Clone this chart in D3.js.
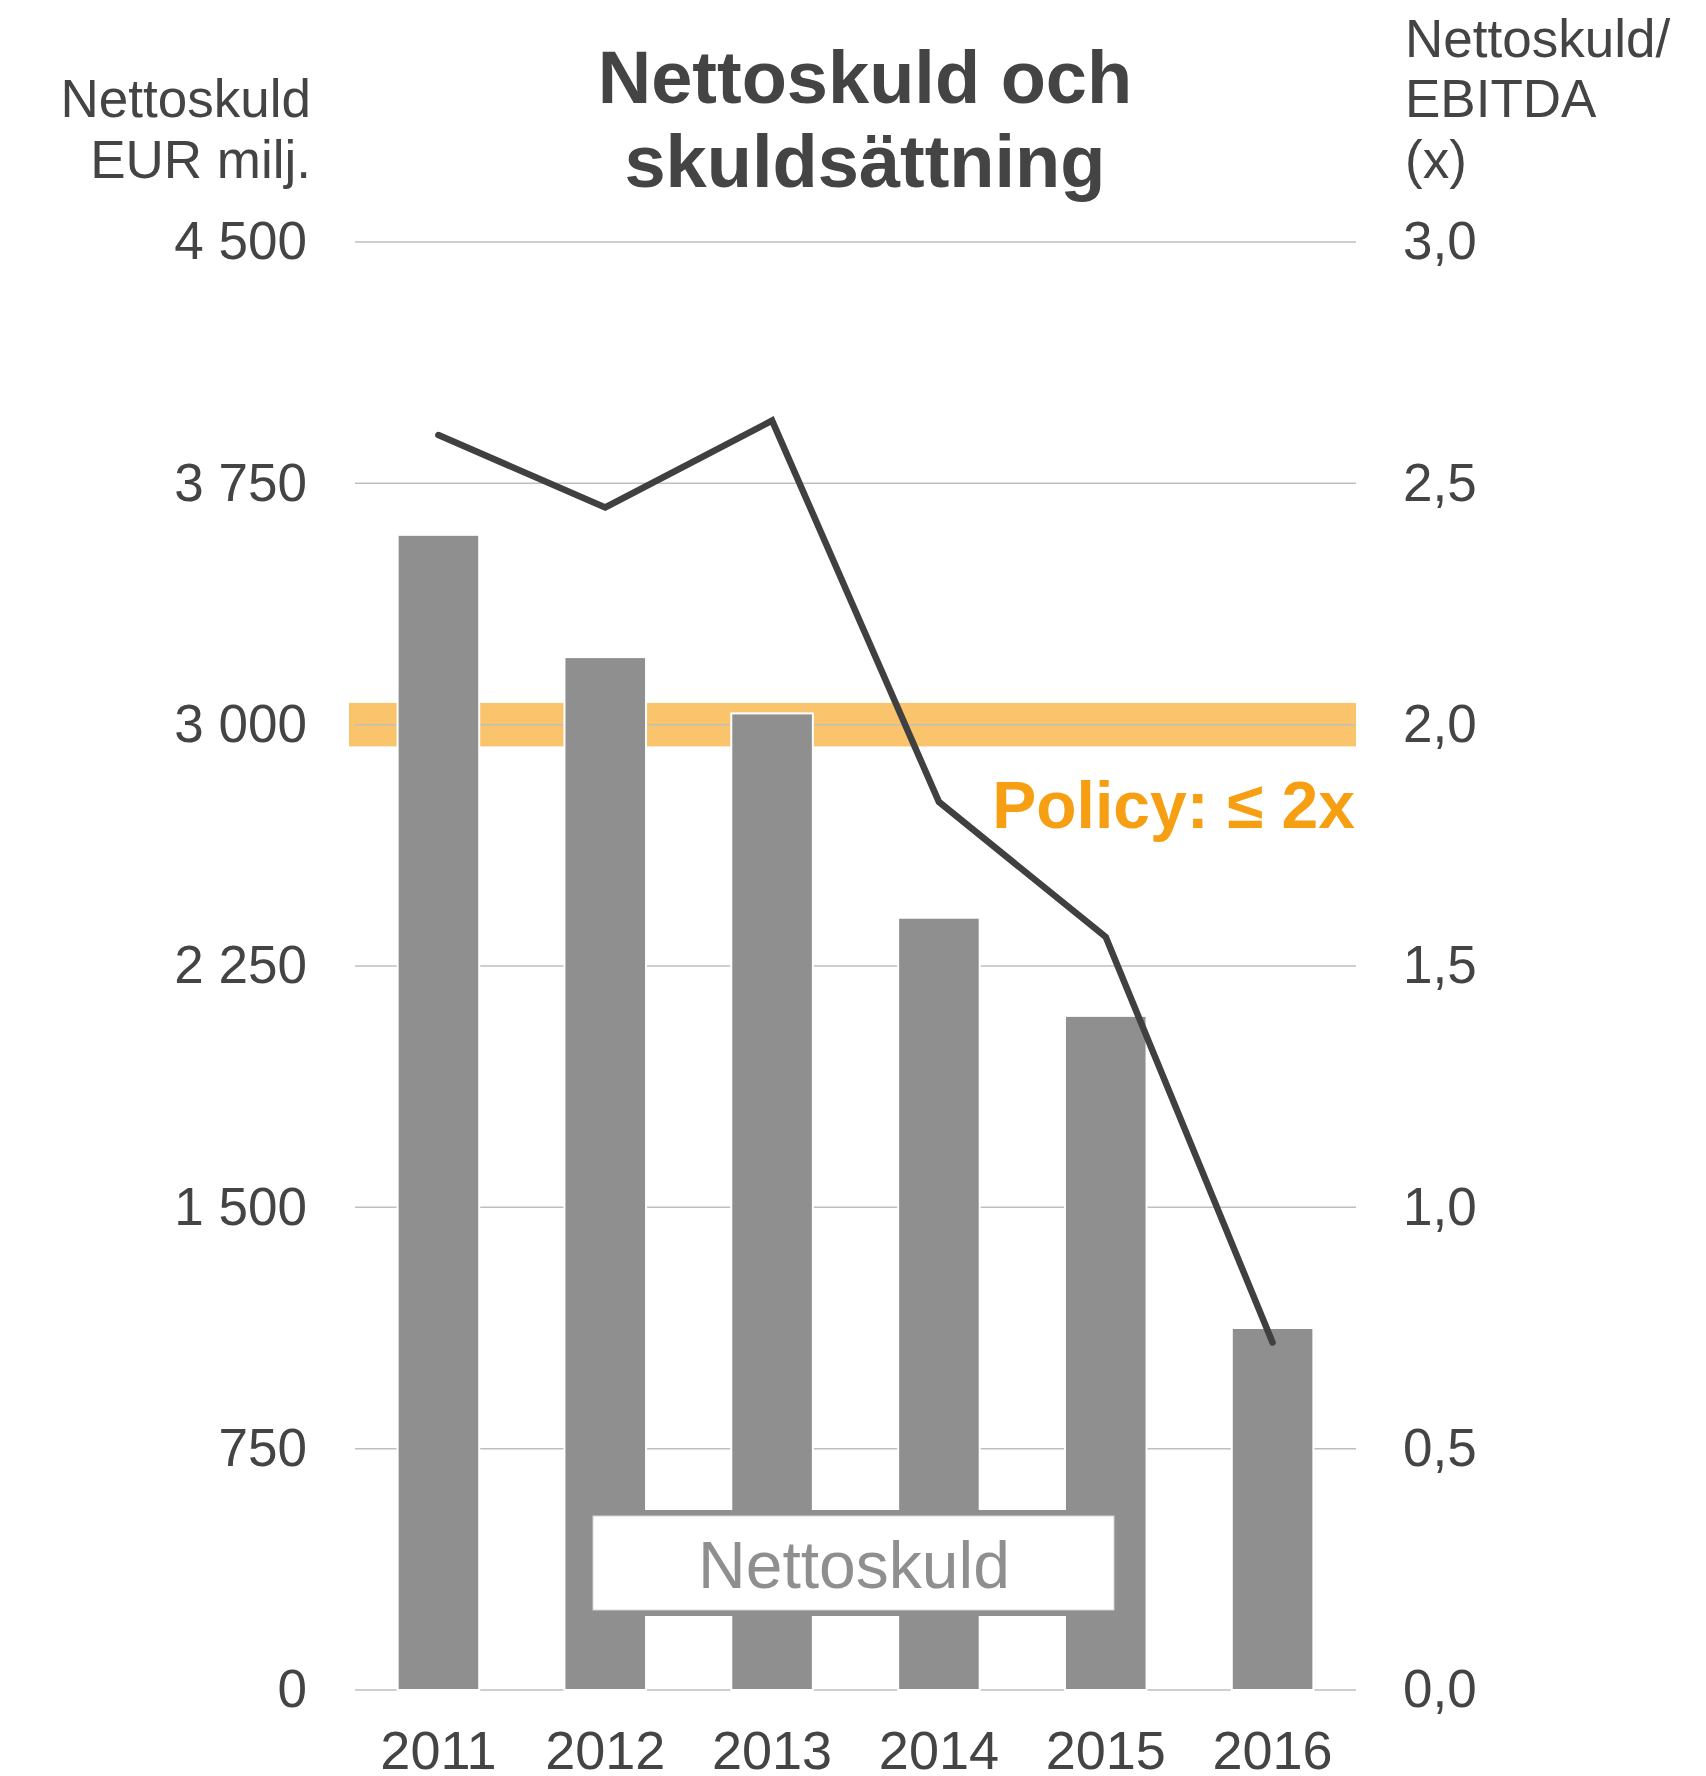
<!DOCTYPE html>
<html>
<head>
<meta charset="utf-8">
<script src="https://cdn.jsdelivr.net/npm/d3@7.9.0/dist/d3.min.js"></script>
<style>
  body { margin: 0; background: #fff; }
  svg { display: block; font-family: "Liberation Sans", Arial, sans-serif; }
</style>
</head>
<body>
<div id="chart"></div>
<script>
// values
const years = ['2011', '2012', '2013', '2014', '2015', '2016'];
const netDebt = [3590, 3210, 3035, 2400, 2095, 1125];
const leverage = [2.6, 2.45, 2.63, 1.84, 1.56, 0.72];
const leftTicks = [0, 750, 1500, 2250, 3000, 3750, 4500];
const rightTicks = [0, 0.5, 1.0, 1.5, 2.0, 2.5, 3.0];
const policyLevel = 2.0;

const width = 1706;
const height = 1776;
const margin = { top: 242, right: 350, bottom: 86, left: 355 };
const textColor = '#444444';
const barColor = '#8f8f8f';

const svg = d3.select('#chart').append('svg')
  .attr('width', width)
  .attr('height', height);

const xScale = d3.scaleBand()
  .domain(years)
  .range([margin.left, width - margin.right])
  .paddingInner(0.511)
  .paddingOuter(0.2555);

const yLeft = d3.scaleLinear()
  .domain([0, 4500])
  .range([height - margin.bottom, margin.top]);

const yRight = d3.scaleLinear()
  .domain([0, 3])
  .range([height - margin.bottom, margin.top]);

const sv = d3.formatLocale({ decimal: ',', thousands: ' ', grouping: [3], currency: ['', ''] });
const fmtLeft = sv.format(',d');
const fmtRight = sv.format('.1f');

const [x0, x1] = xScale.range();

// policy band around 2x
svg.append('rect')
  .attr('x', x0 - 6)
  .attr('y', yRight(policyLevel + 0.045))
  .attr('width', x1 - x0 + 6)
  .attr('height', yRight(policyLevel - 0.045) - yRight(policyLevel + 0.045))
  .attr('fill', '#fac46c');

// gridlines
svg.append('g')
  .selectAll('line')
  .data(leftTicks)
  .join('line')
  .attr('x1', x0)
  .attr('x2', x1)
  .attr('y1', d => yLeft(d))
  .attr('y2', d => yLeft(d))
  .attr('stroke', '#bfbfbf')
  .attr('stroke-width', 1.5);

// bars
svg.append('g')
  .selectAll('rect')
  .data(years)
  .join('rect')
  .attr('x', d => xScale(d))
  .attr('y', (d, i) => yLeft(netDebt[i]))
  .attr('width', xScale.bandwidth())
  .attr('height', (d, i) => yLeft(0) - yLeft(netDebt[i]))
  .attr('fill', barColor)
  .attr('stroke', '#ffffff')
  .attr('stroke-width', 2);

// left axis labels
const leftAxis = svg.append('g')
  .attr('transform', `translate(${x0},0)`)
  .call(d3.axisLeft(yLeft).tickValues(leftTicks).tickSize(0).tickPadding(48).tickFormat(fmtLeft));

// right axis labels
const rightAxis = svg.append('g')
  .attr('transform', `translate(${x1},0)`)
  .call(d3.axisRight(yRight).tickValues(rightTicks).tickSize(0).tickPadding(47).tickFormat(fmtRight));

// year labels
const xAxis = svg.append('g')
  .attr('transform', `translate(0,${yLeft(0)})`)
  .call(d3.axisBottom(xScale).tickSize(0).tickPadding(41));

[leftAxis, rightAxis].forEach(g => {
  g.select('.domain').remove();
  g.selectAll('text')
    .attr('fill', textColor)
    .style('font-size', '53px')
    .style('font-family', '"Liberation Sans", Arial, sans-serif');
});
xAxis.select('.domain').remove();
xAxis.selectAll('text')
  .attr('fill', textColor)
  .style('font-size', '54px')
  .style('font-family', '"Liberation Sans", Arial, sans-serif');

// legend box
const legend = svg.append('g');
legend.append('rect')
  .attr('x', 587)
  .attr('y', 1510)
  .attr('width', 532)
  .attr('height', 106)
  .attr('fill', barColor);
legend.append('rect')
  .attr('x', 593)
  .attr('y', 1516)
  .attr('width', 521)
  .attr('height', 94)
  .attr('fill', '#ffffff')
  .attr('stroke', '#d4d4d4')
  .attr('stroke-width', 1);
legend.append('text')
  .attr('x', 854)
  .attr('y', 1588)
  .attr('text-anchor', 'middle')
  .attr('fill', '#8f8f8f')
  .style('font-size', '66px')
  .text('Nettoskuld');

// leverage line
const line = d3.line()
  .x((d, i) => xScale(years[i]) + xScale.bandwidth() / 2)
  .y(d => yRight(d));

svg.append('path')
  .datum(leverage)
  .attr('d', line)
  .attr('fill', 'none')
  .attr('stroke', '#404040')
  .attr('stroke-width', 6.5)
  .attr('stroke-linecap', 'round')
  .attr('stroke-linejoin', 'miter');

// policy label
svg.append('text')
  .attr('x', x1 - 1)
  .attr('y', 828)
  .attr('text-anchor', 'end')
  .attr('fill', '#f69f12')
  .style('font-size', '66px')
  .style('font-weight', 'bold')
  .text('Policy: \u2264 2x');

// title
const title = svg.append('text')
  .attr('x', 865)
  .attr('text-anchor', 'middle')
  .attr('fill', textColor)
  .style('font-size', '74px')
  .style('font-weight', 'bold');
title.append('tspan').attr('x', 865).attr('y', 103).text('Nettoskuld och');
title.append('tspan').attr('x', 865).attr('y', 187).text('skuldsättning');

// left axis title
const leftTitle = svg.append('text')
  .attr('text-anchor', 'end')
  .attr('fill', textColor)
  .style('font-size', '53px');
leftTitle.append('tspan').attr('x', 311).attr('y', 117).text('Nettoskuld');
leftTitle.append('tspan').attr('x', 311).attr('y', 178).text('EUR milj.');

// right axis title
const rightTitle = svg.append('text')
  .attr('text-anchor', 'start')
  .attr('fill', textColor)
  .style('font-size', '53px');
rightTitle.append('tspan').attr('x', 1405).attr('y', 57).text('Nettoskuld/');
rightTitle.append('tspan').attr('x', 1405).attr('y', 117).text('EBITDA');
rightTitle.append('tspan').attr('x', 1405).attr('y', 178).text('(x)');
</script>
</body>
</html>
